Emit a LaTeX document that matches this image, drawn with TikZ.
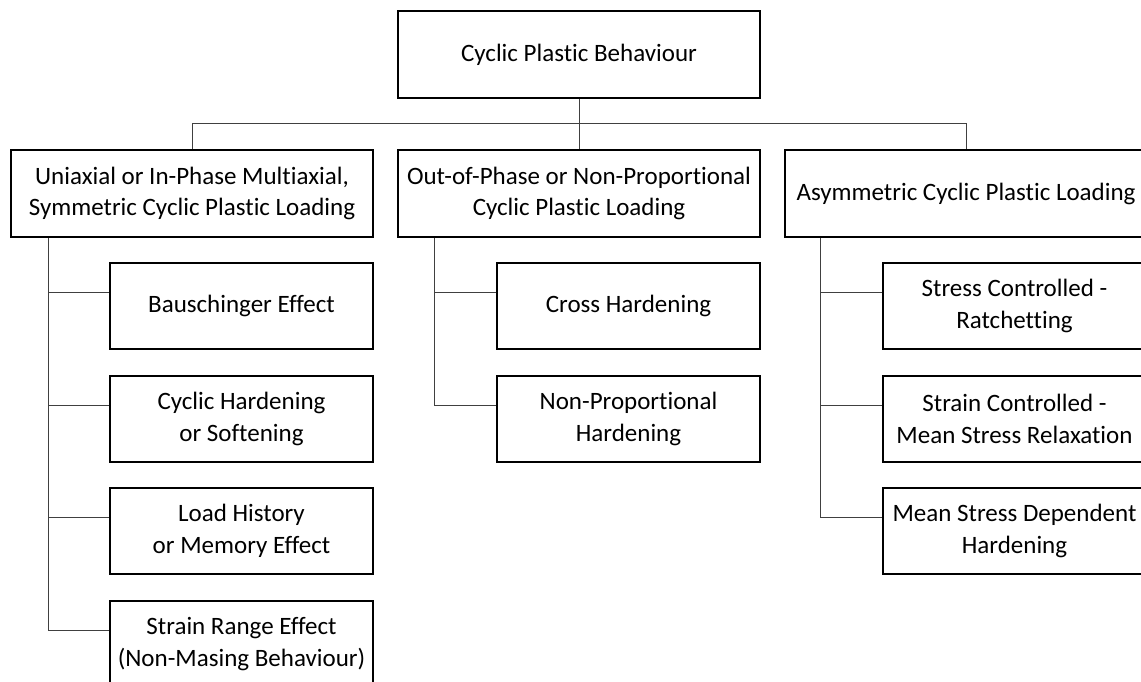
\documentclass[tikz,border=0pt]{standalone}
\usepackage{fontspec}
\setmainfont{Carlito}[Ligatures=NoCommon]
\usepackage{tikz}
\usetikzlibrary{positioning, calc}

\begin{document}
\begin{tikzpicture}[x=1pt, y=1pt,
			box/.style = {rectangle, draw, line width = 1.8pt, align = center, inner sep = 0pt, minimum width = 362pt, minimum height = 87pt, font = \fontsize{25}{31.5}\selectfont},
			sub/.style = {box, minimum width = 263pt, minimum height = 86pt},
			link/.style = {line width = 1pt, draw = black!75},
		]
		\fill[white] (0,0) rectangle (1141,-682);
		\useasboundingbox (0,0) rectangle (1141,-682);

		% top and the three loading types
		\node[box](top) at (579,-54.5){Cyclic Plastic Behaviour};
		\node[box](sym) at (192,-193.5){Uniaxial or In-Phase Multiaxial,\\Symmetric Cyclic Plastic Loading};
		\node[box](oop) at (579,-193.5){Out-of-Phase or Non-Proportional\\Cyclic Plastic Loading};
		\node[box](asym) at (966,-193.5){Asymmetric Cyclic Plastic Loading};

		% effects
		\node[sub](sym1) at (241.5,-306){Bauschinger Effect};
		\node[sub](sym2) at (241.5,-419){Cyclic Hardening\\or Softening};
		\node[sub](sym3) at (241.5,-531){Load History\\or Memory Effect};
		\node[sub](sym4) at (241.5,-644){Strain Range Effect\\(Non-Masing Behaviour)};
		\node[sub](oop1) at (628.5,-306){Cross Hardening};
		\node[sub](oop2) at (628.5,-419){Non-Proportional\\Hardening};
		\node[sub](asym1) at (1014.5,-306){Stress Controlled -\\Ratchetting};
		\node[sub](asym2) at (1014.5,-419){Strain Controlled -\\Mean Stress Relaxation};
		\node[sub](asym3) at (1014.5,-531){Mean Stress Dependent\\Hardening};

		\coordinate(bus) at (0,-124);
		\draw[link](top.south)--(top.south|-bus);
		\draw[link](sym.north)|-(asym.north|-bus)--(asym.north);
		\draw[link](oop.north)--(oop.north|-bus);

		\coordinate(symS) at ([xshift=-144pt]sym.south);
		\coordinate(oopS) at ([xshift=-145pt]oop.south);
		\coordinate(asymS) at ([xshift=-146pt]asym.south);

		\draw[link](symS)|-([yshift=14pt]sym4.west);
		\foreach \s in {sym1, sym2, sym3}
			\draw[link]([yshift=14pt]\s.west)-|(symS);
		\draw[link](oopS)|-([yshift=14pt]oop2.west);
		\draw[link]([yshift=14pt]oop1.west)-|(oopS);
		\draw[link](asymS)|-([yshift=14pt]asym3.west);
		\foreach \s in {asym1, asym2}
			\draw[link]([yshift=14pt]\s.west)-|(asymS);
	\end{tikzpicture}
\end{document}
